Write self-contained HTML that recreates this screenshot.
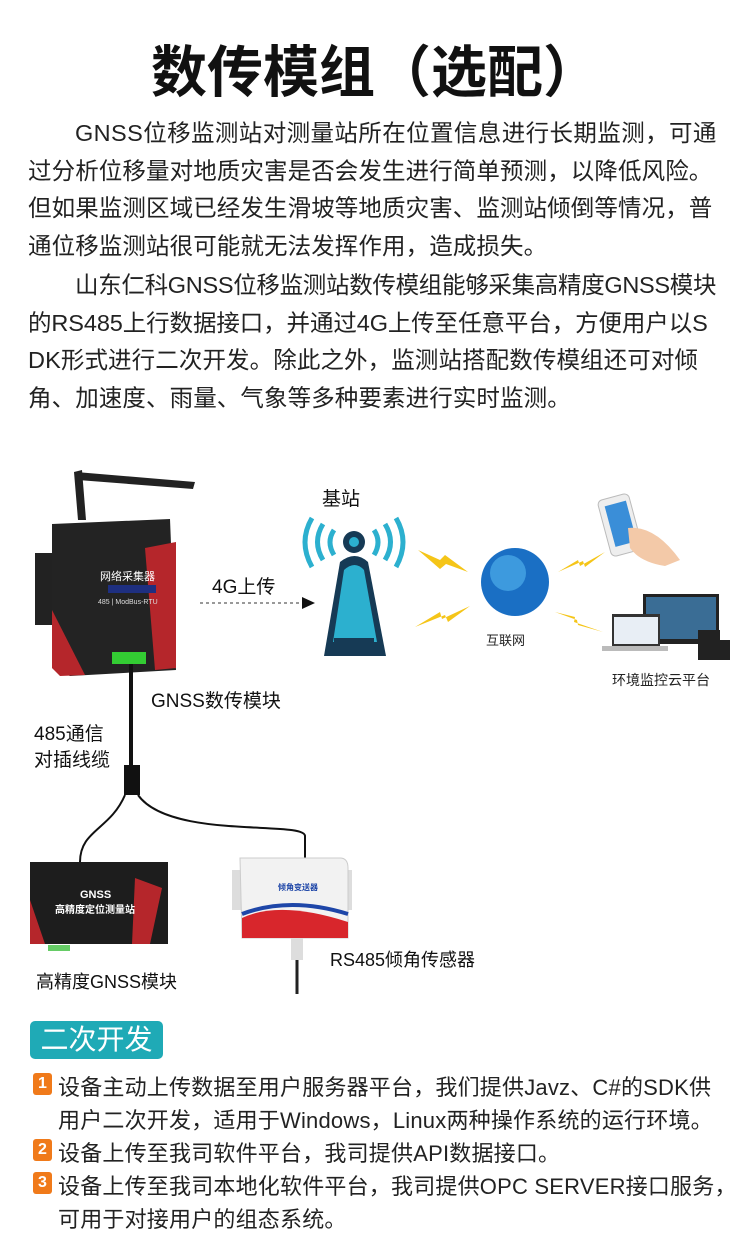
<!DOCTYPE html>
<html><head><meta charset="utf-8"><style>
body{margin:0;width:750px;height:1244px;background:#fff;position:relative;overflow:hidden;font-family:"Liberation Sans","Noto Sans CJK SC",sans-serif;color:#222}
.a{position:absolute;white-space:nowrap}
.p{font-size:23.5px;letter-spacing:0.1px;left:28px}
.l{font-size:19px;color:#111}
.b{font-size:22px;left:58px;letter-spacing:0.2px}
.n{position:absolute;left:33px;width:19px;height:22px;background:#f07a1a;color:#fff;font-size:16px;text-align:center;line-height:22px;border-radius:3px;font-weight:bold}
</style></head><body>
<div class="a" style="left:0;width:750px;text-align:center;top:28px;font-size:56px;font-weight:bold;color:#111">数传模组（选配）</div>
<div class="a p" style="top:114px;left:75px;letter-spacing:0.4px">GNSS位移监测站对测量站所在位置信息进行长期监测，可通</div>
<div class="a p" style="top:152px">过分析位移量对地质灾害是否会发生进行简单预测，以降低风险。</div>
<div class="a p" style="top:189px">但如果监测区域已经发生滑坡等地质灾害、监测站倾倒等情况，普</div>
<div class="a p" style="top:227px">通位移监测站很可能就无法发挥作用，造成损失。</div>
<div class="a p" style="top:266px;left:75px;letter-spacing:-0.3px">山东仁科GNSS位移监测站数传模组能够采集高精度GNSS模块</div>
<div class="a p" style="top:304px;letter-spacing:-0.1px">的RS485上行数据接口，并通过4G上传至任意平台，方便用户以S</div>
<div class="a p" style="top:341px">DK形式进行二次开发。除此之外，监测站搭配数传模组还可对倾</div>
<div class="a p" style="top:379px">角、加速度、雨量、气象等多种要素进行实时监测。</div>

<svg class="a" style="left:0;top:460px" width="750" height="560" viewBox="0 460 750 560">
<path d="M78 520 L74 472 L82 470 L86 520Z" fill="#222"/>
<path d="M76 472 L195 482 L193 489 L78 480Z" fill="#222"/>
<rect x="35" y="553" width="32" height="72" fill="#222"/>
<path d="M52 524 L170 519 L176 670 L70 676 L52 668Z" fill="#232323"/>
<path d="M145 548 L176 542 L176 668 L155 670Z" fill="#b5262b"/>
<path d="M52 610 L85 675 L60 676 L52 668Z" fill="#b5262b"/>
<rect x="108" y="585" width="48" height="8" fill="#1e2f80"/>
<text x="100" y="580" fill="#fff" font-size="11">网络采集器</text>
<text x="98" y="604" fill="#ddd" font-size="7">485 | ModBus-RTU</text>
<rect x="112" y="652" width="34" height="12" fill="#3c3"/>
<path d="M131 664 L131 790" stroke="#111" stroke-width="4"/>
<rect x="124" y="765" width="16" height="30" fill="#111"/>
<path d="M125 795 C110 830 80 830 80 862" stroke="#111" stroke-width="2" fill="none"/>
<path d="M138 795 C170 840 305 820 305 836 L305 858" stroke="#111" stroke-width="2" fill="none"/>
<path d="M200 603 L302 603" stroke="#333" stroke-dasharray="3,3"/>
<path d="M302 597 L315 603 L302 609Z" fill="#111"/>
<path d="M340 562 Q355 550 368 562 L386 656 L324 656Z" fill="#163a55"/>
<path d="M344 570 Q355 560 364 570 L377 642 L333 642Z" fill="#2cb0cf"/>
<rect x="334" y="638" width="40" height="4" fill="#163a55"/>
<circle cx="354" cy="542" r="11" fill="#163a55"/><circle cx="354" cy="542" r="5" fill="#2cb0cf"/>
<g fill="none" stroke="#2cb0cf" stroke-width="5">
<path d="M334 530 Q326 542 334 555"/><path d="M323 524 Q312 542 323 560"/><path d="M312 518 Q298 542 312 567"/>
<path d="M374 530 Q382 542 374 555"/><path d="M385 524 Q396 542 385 560"/><path d="M396 518 Q410 542 396 567"/></g>
<g fill="#f5c518"><path d="M418 550 L440 560 L445 555 L468 572 L446 564 L440 569Z"/>
<path d="M415 627 L440 612 L442 619 L470 606 L448 622 L445 615Z"/>
<path d="M558 572 L578 560 L580 566 L605 552 L585 567 L583 561Z"/>
<path d="M555 612 L575 617 L574 622 L603 632 L578 625 L577 620Z"/></g>
<circle cx="515" cy="582" r="34" fill="#1a6fc4"/><circle cx="508" cy="573" r="18" fill="#55b8f0" opacity=".6"/>
<rect x="604" y="496" width="32" height="58" rx="5" fill="#eee" stroke="#bbb" transform="rotate(-15 620 525)"/>
<rect x="610" y="503" width="22" height="42" fill="#3a8ed8" transform="rotate(-15 620 525)"/>
<path d="M628 528 Q655 525 680 560 L665 566 Q640 562 630 548Z" fill="#f3c9a8"/>
<rect x="643" y="594" width="76" height="50" fill="#222"/><rect x="646" y="597" width="70" height="42" fill="#3a6d95"/>
<rect x="612" y="614" width="48" height="32" fill="#333"/><rect x="614" y="617" width="44" height="27" fill="#e8eef5"/>
<rect x="602" y="646" width="66" height="5" fill="#bbb"/>
<rect x="698" y="630" width="22" height="30" fill="#222"/><rect x="718" y="640" width="12" height="20" fill="#222"/>
<path d="M30 862 L168 862 L168 944 L30 944Z" fill="#1d1d1d"/>
<path d="M135 878 L162 888 L150 944 L132 944Z" fill="#b5262b"/>
<path d="M30 900 L45 944 L30 944Z" fill="#b5262b"/>
<rect x="48" y="945" width="22" height="6" fill="#6c6"/>
<text x="80" y="898" fill="#fff" font-size="11" font-weight="bold">GNSS</text>
<text x="55" y="913" fill="#fff" font-size="10" font-weight="bold">高精度定位测量站</text>
<rect x="232" y="870" width="12" height="40" fill="#ddd"/><rect x="340" y="870" width="12" height="40" fill="#ddd"/>
<path d="M240 858 L340 858 Q348 858 348 868 L348 938 L242 938Z" fill="#f2f2f2" stroke="#ccc"/>
<path d="M242 918 Q280 900 348 922 L348 938 L242 938Z" fill="#d8262c"/>
<path d="M242 914 Q290 896 348 914" stroke="#1e46a8" stroke-width="4" fill="none"/>
<text x="278" y="890" fill="#1e46a8" font-size="8" font-weight="bold">倾角变送器</text>
<rect x="291" y="938" width="12" height="22" fill="#ddd"/>
<path d="M297 960 L297 994" stroke="#222" stroke-width="3"/>
</svg>
<div class="a l" style="left:322px;top:484px">基站</div>
<div class="a l" style="left:212px;top:572px">4G上传</div>
<div class="a" style="left:486px;top:630px;font-size:13px">互联网</div>
<div class="a" style="left:612px;top:670px;font-size:14px">环境监控云平台</div>
<div class="a l" style="left:151px;top:686px">GNSS数传模块</div>
<div class="a l" style="left:34px;top:722px;line-height:26px">485通信<br>对插线缆</div>
<div class="a l" style="left:36px;top:968px;font-size:18px">高精度GNSS模块</div>
<div class="a l" style="left:330px;top:946px;font-size:18px">RS485倾角传感器</div>

<div class="a" style="left:30px;top:1021px;width:133px;height:38px;background:#1faab6;border-radius:5px;color:#fff;font-size:28px;text-align:center;line-height:38px">二次开发</div>
<div class="n" style="top:1073px">1</div><div class="n" style="top:1139px">2</div><div class="n" style="top:1172px">3</div>
<div class="a b" style="top:1070px">设备主动上传数据至用户服务器平台，我们提供Javz、C#的SDK供</div>
<div class="a b" style="top:1103px">用户二次开发，适用于Windows，Linux两种操作系统的运行环境。</div>
<div class="a b" style="top:1136px">设备上传至我司软件平台，我司提供API数据接口。</div>
<div class="a b" style="top:1169px">设备上传至我司本地化软件平台，我司提供OPC SERVER接口服务，</div>
<div class="a b" style="top:1202px">可用于对接用户的组态系统。</div>
</body></html>
